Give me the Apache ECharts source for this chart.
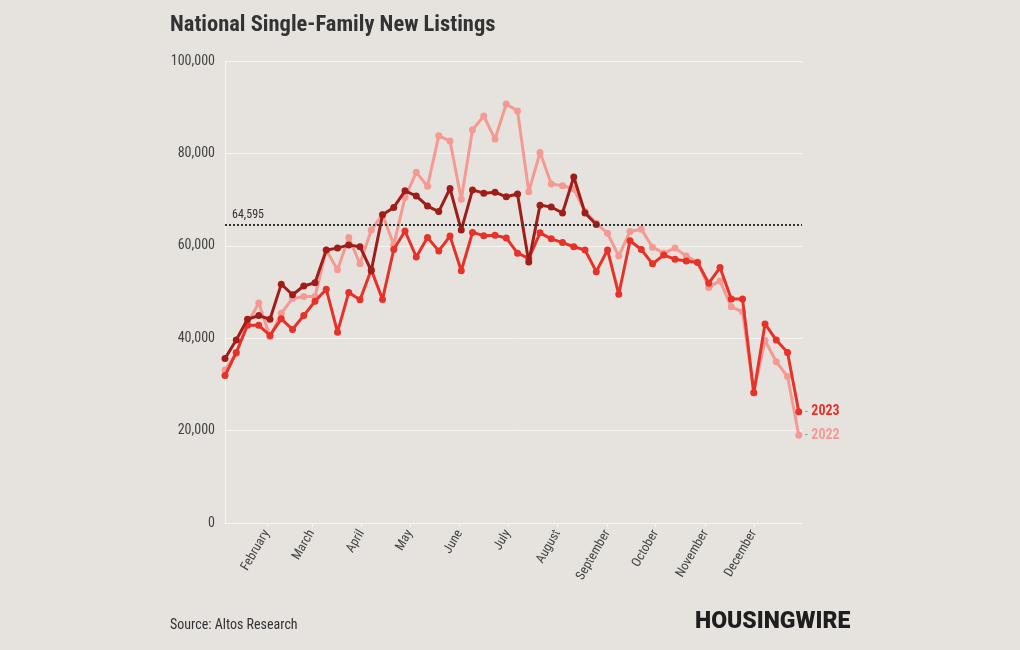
<!DOCTYPE html>
<html>
<head>
<meta charset="utf-8">
<script src="https://cdn.jsdelivr.net/npm/echarts@6/dist/echarts.min.js"></script>
<style>
html,body{margin:0;padding:0;background:#e6e3df;}
#chart{width:1020px;height:650px;}
</style>
</head>
<body>
<div id="chart"></div>
<script>
const weeks = ['2023-01-06','2023-01-13','2023-01-20','2023-01-27','2023-02-03','2023-02-10','2023-02-17','2023-02-24',
'2023-03-03','2023-03-10','2023-03-17','2023-03-24','2023-03-31','2023-04-07','2023-04-14','2023-04-21','2023-04-28',
'2023-05-05','2023-05-12','2023-05-19','2023-05-26','2023-06-02','2023-06-09','2023-06-16','2023-06-23','2023-06-30',
'2023-07-07','2023-07-14','2023-07-21','2023-07-28','2023-08-04','2023-08-11','2023-08-18','2023-08-25',
'2023-09-01','2023-09-08','2023-09-15','2023-09-22','2023-09-29','2023-10-06','2023-10-13','2023-10-20','2023-10-27',
'2023-11-03','2023-11-10','2023-11-17','2023-11-24','2023-12-01','2023-12-08','2023-12-15','2023-12-22','2023-12-29'];

const values2022 = [33100,36700,43200,47600,40300,45400,48600,49000,49000,59100,54800,61800,56100,63400,66800,60200,70500,
75900,72900,83800,82700,70100,85100,88100,83100,90700,89200,71700,80200,73400,73000,72300,67400,64900,
62700,57800,63100,63600,59700,58400,59500,57800,56500,51000,52400,46800,45700,28300,39500,34900,31700,19000];

const values2023 = [31900,36900,42800,42800,40600,44200,41900,44900,48000,50600,41300,49900,48300,54800,48400,59200,63200,
57600,61800,58900,62100,54600,62900,62200,62300,61700,58400,57300,62800,61500,60700,59800,59100,54400,
59100,49500,61100,59200,56100,58000,57100,56700,56400,51900,55300,48500,48500,28200,43100,39600,36900,24100];

const values2024 = [35600,39600,44100,44900,44100,51700,49400,51300,52000,59100,59500,60200,59800,54600,66700,68300,71900,
70800,68600,67400,72400,63400,72100,71400,71600,70600,71200,56500,68800,68400,67100,74900,67100,64595];

const currentValue = 64595;
const monthTicks = ['2023-02-01','2023-03-01','2023-04-01','2023-05-01','2023-06-01','2023-07-01','2023-08-01',
'2023-09-01','2023-10-01','2023-11-01','2023-12-01'];
const monthNames = ['January','February','March','April','May','June','July','August','September','October','November','December'];

const FONT = "'Roboto Condensed','Liberation Sans Narrow','DejaVu Sans Condensed',Roboto,sans-serif";
const C22 = '#f59a93', C23 = '#e83129', C24 = '#a11d1a';

const P = s => { const [y,m,d] = s.split('-').map(Number); return Date.UTC(y, m-1, d); };
const pair = (arr) => arr.map((v, i) => [P(weeks[i]), v]);
const tickVals = monthTicks.map(P);

const chart = echarts.init(document.getElementById('chart'), null, {renderer:'canvas'});
const fmt = v => String(v).replace(/\B(?=(\d{3})+(?!\d))/g, ',');

function lineSeries(name, data, color, z, endText) {
  const s = {
    name, type:'line', data: pair(data), z,
    symbol:'circle', symbolSize:7, showSymbol:true,
    lineStyle:{color, width:3}, itemStyle:{color},
    animation:false
  };
  if (endText) {
    s.endLabel = {
      show:true, formatter:'{d|-} {t|' + endText + '}', distance:6,
      rich:{
        d:{color:'#9a9691', fontSize:13, fontFamily:FONT},
        t:{color, fontSize:14, fontWeight:'bold', fontFamily:FONT}
      }
    };
  }
  return s;
}

const series = [
  lineSeries('2022', values2022, C22, 2, '2022'),
  lineSeries('2023', values2023, C23, 3, '2023'),
  lineSeries('2024', values2024, C24, 4, null)
];
series[2].markLine = {
  silent:true, symbol:'none', animation:false,
  lineStyle:{color:'#333', type:[2,2], width:2},
  label:{show:true, position:'insideStartTop', formatter: () => fmt(currentValue), color:'#333', fontSize:12, fontFamily:FONT, distance:[7,4]},
  data:[{yAxis: currentValue}]
};

chart.setOption({
  backgroundColor:'#e6e3df',
  animation:false,
  title:{
    text:'National Single-Family New Listings', left:170, top:14, padding:0,
    textStyle:{fontFamily:FONT, fontSize:22.5, fontWeight:'bold', color:'#333'}
  },
  grid:{left:225, right:218, top:61, bottom:127, containLabel:false},
  xAxis:{
    type:'value', min:P('2023-01-06'), max:P('2023-12-31'),
    axisLine:{show:true, lineStyle:{color:'#f7f5f2', width:1}},
    axisTick:{show:true, customValues:tickVals, length:4, lineStyle:{color:'#f7f5f2'}},
    splitLine:{show:false},
    axisLabel:{
      customValues:tickVals, rotate:60, margin:8, color:'#444', fontSize:13, fontFamily:FONT,
      formatter: v => monthNames[new Date(v).getUTCMonth()]
    }
  },
  yAxis:{
    type:'value', min:0, max:100000, interval:20000,
    axisLine:{show:true, lineStyle:{color:'#f7f5f2', width:1}},
    axisTick:{show:false},
    splitLine:{show:true, lineStyle:{color:'#f7f5f2', width:1}},
    axisLabel:{color:'#444', fontSize:14, fontFamily:FONT, margin:10, formatter: v => fmt(v)}
  },
  series,
  graphic:[
    {type:'text', left:170, top:618, style:{text:'Source: Altos Research', fontFamily:FONT, fontSize:14, fill:'#333'}},
    {type:'text', left:695, top:611, style:{text:'HOUSINGWIRE', fontFamily:"Roboto,'DejaVu Sans',sans-serif", fontSize:23, fontWeight:900, fill:'#1e1e1e'}}
  ]
});
</script>
</body>
</html>
